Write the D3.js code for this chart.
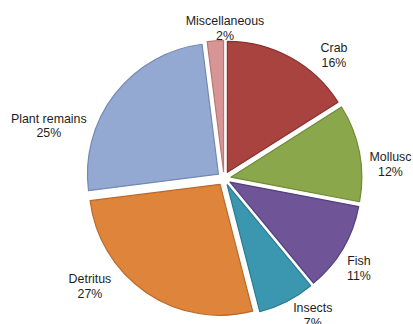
<!DOCTYPE html>
<html>
<head>
<meta charset="utf-8">
<script src="https://cdn.jsdelivr.net/npm/d3@7"></script>
<style>
  html, body { margin: 0; padding: 0; background: #ffffff; }
  svg { display: block; }
  text { font-family: "Liberation Sans", Arial, sans-serif; font-size: 12.4px; fill: #1e1e1e; }
</style>
</head>
<body>
<script>
// Diet composition (% of items), clockwise from 12 o'clock
const categories = ["Crab", "Mollusc", "Fish", "Insects", "Detritus", "Plant remains", "Miscellaneous"];
const shares = [16, 12, 11, 7, 27, 25, 2];
const fills = ["#a8433f", "#8aa74b", "#6f5597", "#3b97b0", "#de843b", "#93a9d2", "#d79596"];
const strokes = ["#8a302e", "#6e8a36", "#54407b", "#2a7b91", "#b9692b", "#7389b4", "#b87677"];

const width = 413, height = 324;
const cx = 224, cy = 178.5, radius = 131, explode = 7;

// label placement: angular nudge (deg) from slice mid-angle and distance from centre
const labelNudge = [13, 6, 3, -6, 17, -21, 4];
const labelDist = [165, 167, 162, 163, 172, 183, 150];

const svg = d3.select("body").append("svg")
  .attr("width", width).attr("height", height);

const pie = d3.pie().sort(null).value(d => d);
const arcs = pie(shares);
const arc = d3.arc().innerRadius(0).outerRadius(radius);

const g = svg.append("g").attr("transform", `translate(${cx},${cy})`);

g.selectAll("path.slice")
  .data(arcs)
  .join("path")
  .attr("class", "slice")
  .attr("d", arc)
  .attr("transform", d => {
    const a = (d.startAngle + d.endAngle) / 2;
    return `translate(${Math.sin(a) * explode},${-Math.cos(a) * explode})`;
  })
  .attr("fill", (d, i) => fills[i])
  .attr("stroke", (d, i) => strokes[i])
  .attr("stroke-width", 1.2)
  .attr("stroke-linejoin", "round");

const labels = g.selectAll("text.lbl")
  .data(arcs)
  .join("text")
  .attr("class", "lbl")
  .attr("text-anchor", "middle")
  .attr("transform", (d, i) => {
    const a = (d.startAngle + d.endAngle) / 2 + labelNudge[i] * Math.PI / 180;
    const r = labelDist[i];
    return `translate(${Math.sin(a) * r},${-Math.cos(a) * r})`;
  });

labels.append("tspan")
  .attr("x", 0).attr("dy", "-0.25em")
  .text((d, i) => categories[i]);
labels.append("tspan")
  .attr("x", 0).attr("dy", "1.2em")
  .text(d => d.data + "%");
</script>
</body>
</html>
